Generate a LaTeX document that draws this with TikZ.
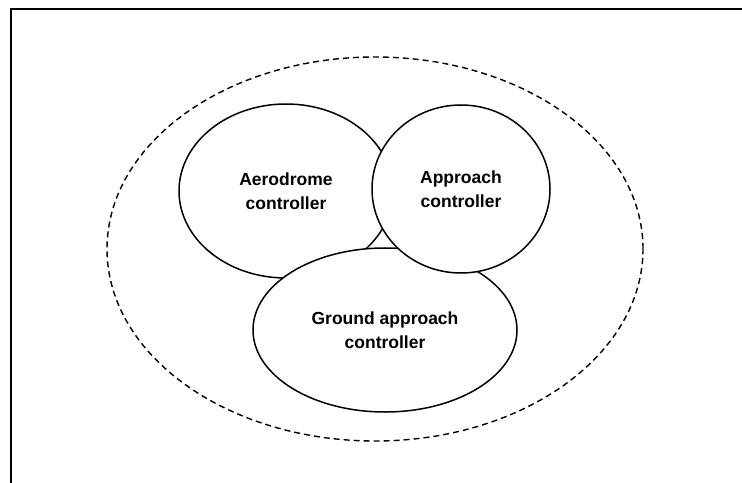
\documentclass[tikz,border=0pt]{standalone}
\usepackage{fontspec}
\setmainfont{Liberation Sans}
\usepackage{tikz}
\usetikzlibrary{shapes.geometric}

\begin{document}
\begin{tikzpicture}[
			x=1bp,y=-1bp,
			every node/.style={font=\fontsize{17.5bp}{24bp}\selectfont\bfseries},
			unit/.style={ellipse,draw,line width=1.5bp,fill=white,inner sep=0pt,align=center},
			region/.style={ellipse,draw,line width=1.4bp,dash pattern=on 6bp off 4bp,inner sep=0pt}
			]

				\useasboundingbox (0,0) rectangle (742,483);
				\draw[line width=2bp] (11,483) -- (11,9) -- (742,9);

				\node[region,minimum width=536bp,minimum height=384bp] (atc) at (375,249) {};

				\node[unit,minimum width=214bp,minimum height=174bp] (aerodrome) at (286,191) {Aerodrome\\controller};
				\node[unit,minimum width=264bp,minimum height=164bp] (ground) at (385,330) {Ground approach\\controller};
				\node[unit,minimum width=178bp,minimum height=168bp] (approach) at (461,189) {Approach\\controller};

			\end{tikzpicture}
\end{document}
